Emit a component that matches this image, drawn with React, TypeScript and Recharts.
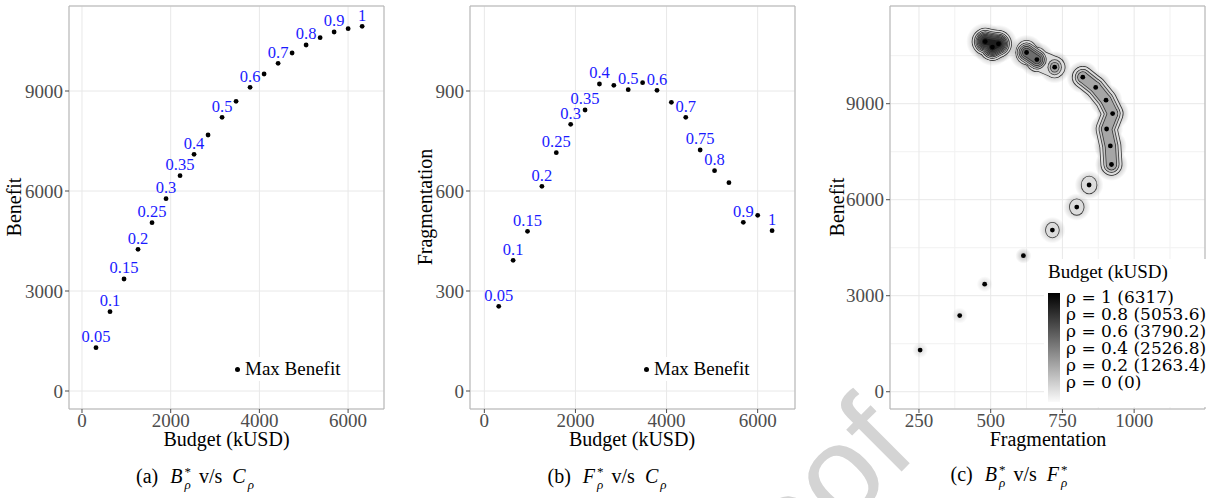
import React from 'react';
import {
  ScatterChart,
  Scatter,
  XAxis,
  YAxis,
  CartesianGrid,
  ReferenceArea,
  LabelList,
  Legend
} from 'recharts';

// rho levels and the optimum found for each one
const rho = [0.05, 0.1, 0.15, 0.2, 0.25, 0.3, 0.35, 0.4, 0.45, 0.5, 0.55, 0.6, 0.65, 0.7, 0.75, 0.8, 0.85, 0.9, 0.95, 1];
const budget = [315.9, 631.7, 947.6, 1263.4, 1579.3, 1895.1, 2211.0, 2526.8, 2842.7, 3158.5, 3474.4, 3790.2, 4106.1, 4421.9, 4737.8, 5053.6, 5369.5, 5685.3, 6001.2, 6317];
const benefit = [1300, 2380, 3360, 4250, 5050, 5770, 6460, 7100, 7680, 8210, 8690, 9110, 9510, 9830, 10140, 10380, 10600, 10770, 10870, 10940];
const fragmentation = [254, 392, 479, 614, 715, 800, 843, 921, 917, 904, 925, 902, 866, 821, 723, 661, 625, 506, 527, 481];

// which points carry a rho label in panels (a) and (b)
const labelledA = [1, 1, 1, 1, 1, 1, 1, 1, 0, 1, 0, 1, 0, 1, 0, 1, 0, 1, 0, 1];
const labelledB = [1, 1, 1, 1, 1, 1, 1, 1, 0, 1, 0, 1, 0, 1, 1, 1, 0, 1, 0, 1];

// panel (c) shading: integer part = number of contour rings round the point
const density = [0.2, 0.25, 0.3, 0.8, 1.3, 1.5, 1.8, 3.5, 3.5, 3.5, 3.6, 3.5, 3.5, 3.4, 3.2, 5.3, 5.3, 8.5, 8.6, 8.5];
// contour levels that join a point to the one before it
const linkLevels = [0, 0, 0, 0, 0, 0, 0, 0, 3, 3, 3, 3, 3, 3, 0, 1, 5, 0, 8, 8];

const budgetTicks = [0, 2000, 4000, 6000];
const benefitTicks = [0, 3000, 6000, 9000];
const fragTicks = [0, 300, 600, 900];
const fragXTicks = [250, 500, 750, 1000];
const minorFragX = [375, 625, 875, 1125];
const minorBenefitY = [1500, 4500, 7500, 10500];

const legendRho = ['1', '0.8', '0.6', '0.4', '0.2', '0'];
const legendBudget = ['6317', '5053.6', '3790.2', '2526.8', '1263.4', '0'];

const H = 498;
const FONT = '"Liberation Serif", "DejaVu Serif", serif';
const tickStyle = { fill: '#4d4d4d', fontSize: 19, fontFamily: FONT };
const LABEL_BLUE = '#1a1aff';

const dataA = budget.map((b, i) => ({ x: b, y: benefit[i], label: labelledA[i] ? String(rho[i]) : '' }));
const dataB = budget.map((b, i) => ({ x: b, y: fragmentation[i], label: labelledB[i] ? String(rho[i]) : '' }));
const dataC = fragmentation.map((f, i) => ({ x: f, y: benefit[i], d: density[i], link: linkLevels[i] }));

// contour geometry (px) for panel (c)
const SX = 5.5;
const SY = 6.2;
const grays = ['#dcdcdc', '#c2c2c2', '#a6a6a6', '#8a8a8a', '#6d6d6d', '#515151', '#363636', '#1e1e1e'];
const spread = (d: number, j: number) => Math.sqrt(2 * Math.log((d + 0.7) / j));
const maxLevel = Math.max(...density.map(d => Math.floor(d)));

const dotShape = (p: any) => <circle cx={p.cx} cy={p.cy} r={2.4} fill="#000" />;
const emptyShape = () => <g />;

function runsAt(j: number) {
  const runs: any[][] = [];
  let cur: any[] = [];
  dataC.forEach(p => {
    if (Math.floor(p.d) < j) {
      if (cur.length > 1) runs.push(cur);
      cur = [];
      return;
    }
    if (cur.length && p.link >= j) {
      cur.push(p);
    } else {
      if (cur.length > 1) runs.push(cur);
      cur = [p];
    }
  });
  if (cur.length > 1) runs.push(cur);
  return runs;
}

const ellipseShape = (j: number, pad: number, color: string) => (p: any) => {
  const f = spread(p.payload.d, j);
  return <ellipse cx={p.cx} cy={p.cy} rx={SX * f + pad} ry={SY * f + pad} fill={color} />;
};

const glowShape = (p: any) => {
  const d = p.payload.d;
  const r = d < 1 ? 8 : SY * spread(d, 1) + 6;
  const op = d < 1 ? 0.1 + 0.22 * d : Math.min(0.5, 0.2 + 0.1 * d);
  return <circle cx={p.cx} cy={p.cy} r={r} fill="url(#pointGlow)" opacity={op} />;
};

const contourSeries: React.ReactNode[] = [];
for (let j = 1; j <= maxLevel; j++) {
  const pts = dataC.filter(p => Math.floor(p.d) >= j);
  const runs = runsAt(j);
  const passes: [number, string, string][] = [[0.8, '#3a3a3a', 'o'], [0, grays[j - 1], 'f']];
  passes.forEach(([pad, color, tag]) => {
    contourSeries.push(
      <Scatter key={`e${j}${tag}`} data={pts} shape={ellipseShape(j, pad, color)} isAnimationActive={false} />
    );
    runs.forEach((run, r) => {
      const minD = Math.min(...run.map(p => p.d));
      const w = 2 * SX * spread(minD, j) * 1.1;
      contourSeries.push(
        <Scatter
          key={`t${j}${tag}${r}`}
          data={run}
          shape={emptyShape}
          line={{ stroke: color, strokeWidth: w + 2 * pad, strokeLinecap: 'round', strokeLinejoin: 'round' }}
          isAnimationActive={false}
        />
      );
    });
  });
}

function MaxBenefitKey() {
  return (
    <div style={{ display: 'flex', alignItems: 'center', background: '#fff', padding: '1px 3px', fontFamily: FONT, fontSize: 19, lineHeight: '22px', whiteSpace: 'nowrap' }}>
      <span style={{ width: 5, height: 5, borderRadius: '50%', background: '#000', display: 'inline-block' }} />
      <span style={{ marginLeft: 5 }}>Max Benefit</span>
    </div>
  );
}

function BudgetKey() {
  return (
    <div style={{ position: 'relative', width: 164, height: 148, background: '#fff', fontFamily: FONT }}>
      <div style={{ position: 'absolute', left: 4, top: 2, fontSize: 19, lineHeight: '22px', whiteSpace: 'nowrap' }}>Budget (kUSD)</div>
      <div style={{ position: 'absolute', left: 4, top: 34, width: 12, height: 109, background: 'linear-gradient(#000, #fafafa)' }} />
      {legendRho.map((r, i) => (
        <div
          key={r}
          style={{ position: 'absolute', left: 22, top: 30 + i * 17, fontSize: 17, lineHeight: '17px', whiteSpace: 'pre', fontFamily: '"DejaVu Serif", serif' }}
        >
          {`ρ = ${r} (${legendBudget[i]})`}
        </div>
      ))}
    </div>
  );
}

interface PanelProps {
  left: number;
  width: number;
  yAxisWidth: number;
  marginRight: number;
  xDomain: [number, number];
  yDomain: [number, number];
  xTicks: number[];
  yTicks: number[];
  minor?: boolean;
  children: React.ReactNode;
}

function Panel({ left, width, yAxisWidth, marginRight, xDomain, yDomain, xTicks, yTicks, minor, children }: PanelProps) {
  return (
    <div style={{ position: 'absolute', left, top: 0 }}>
      <ScatterChart width={width} height={H} margin={{ top: 6, right: marginRight, bottom: 59, left: 0 }}>
        {minor && <CartesianGrid stroke="#f1f1f1" verticalValues={minorFragX} horizontalValues={minorBenefitY} />}
        <CartesianGrid stroke="#e8e8e8" />
        <XAxis
          type="number"
          dataKey="x"
          domain={xDomain}
          ticks={xTicks}
          allowDataOverflow
          height={30}
          axisLine={false}
          tickLine={{ stroke: '#4d4d4d' }}
          tickSize={4}
          tickMargin={1}
          tick={tickStyle}
        />
        <YAxis
          type="number"
          dataKey="y"
          domain={yDomain}
          ticks={yTicks}
          allowDataOverflow
          width={yAxisWidth}
          axisLine={false}
          tickLine={{ stroke: '#4d4d4d' }}
          tickSize={4}
          tickMargin={2}
          tick={tickStyle}
        />
        {children}
        <ReferenceArea x1={xDomain[0]} x2={xDomain[1]} y1={yDomain[0]} y2={yDomain[1]} fill="none" stroke="#b3b3b3" strokeWidth={1} />
      </ScatterChart>
    </div>
  );
}

function Title({ x, y, text, rotate }: { x: number; y: number; text: string; rotate?: boolean }) {
  return (
    <div
      style={{
        position: 'absolute',
        left: x,
        top: y,
        transform: `translate(-50%, -50%)${rotate ? ' rotate(-90deg)' : ''}`,
        fontSize: 20,
        whiteSpace: 'nowrap',
        lineHeight: '22px'
      }}
    >
      {text}
    </div>
  );
}

// italic symbol with stacked star / rho scripts on its right
function Sym({ base, sup }: { base: string; sup?: boolean }) {
  return (
    <span style={{ whiteSpace: 'nowrap' }}>
      <i>{base}</i>
      <span style={{ display: 'inline-flex', flexDirection: 'column', verticalAlign: 'middle', fontSize: 13, lineHeight: '13px', marginLeft: 2 }}>
        <span>{sup ? '*' : '\u00a0'}</span>
        <i>ρ</i>
      </span>
    </span>
  );
}

function Caption({ x, y, tag, lhs, rhs, rhsStar }: { x: number; y: number; tag: string; lhs: string; rhs: string; rhsStar?: boolean }) {
  return (
    <div style={{ position: 'absolute', left: x, top: y, transform: 'translate(-50%, -50%)', fontSize: 20, lineHeight: '28px', whiteSpace: 'nowrap' }}>
      <span style={{ marginRight: 12 }}>({tag})</span>
      <Sym base={lhs} sup />
      <span style={{ margin: '0 10px 0 8px' }}>v/s</span>
      <Sym base={rhs} sup={rhsStar} />
    </div>
  );
}

export default function App() {
  return (
    <div style={{ position: 'absolute', left: 0, top: 0, width: 1208, height: H, overflow: 'hidden', background: '#fff', fontFamily: FONT, color: '#000' }}>
      <svg width={0} height={0} style={{ position: 'absolute' }}>
        <defs>
          <radialGradient id="pointGlow">
            <stop offset="0%" stopColor="#000" stopOpacity={1} />
            <stop offset="100%" stopColor="#000" stopOpacity={0} />
          </radialGradient>
        </defs>
      </svg>

      {/* watermark */}
      <svg width={1208} height={H} style={{ position: 'absolute', left: 0, top: 0, pointerEvents: 'none' }}>
        <text x={919} y={454} transform="rotate(-45 919 454)" textAnchor="end" fontSize={130} fontFamily='"Liberation Sans", Arial, sans-serif' fill="#d4d4d4">
          Journal Pre-proof
        </text>
      </svg>

      {/* (a) benefit vs budget */}
      <Panel left={0} width={400} yAxisWidth={69} marginRight={16} xDomain={[-293, 6810]} yDomain={[-540, 11550]} xTicks={budgetTicks} yTicks={benefitTicks}>
        {[
          <Scatter key="a" data={dataA} shape={dotShape} isAnimationActive={false}>
            <LabelList dataKey="label" position="top" offset={1} fill={LABEL_BLUE} fontSize={16.5} fontFamily={FONT} />
          </Scatter>,
          <Legend key="la" layout="horizontal" verticalAlign="middle" align="center" content={() => <MaxBenefitKey />} wrapperStyle={{ left: 232, top: 357, width: 'auto', height: 'auto' }} />
        ]}
      </Panel>

      {/* (b) fragmentation vs budget */}
      <Panel left={400} width={400} yAxisWidth={70} marginRight={5} xDomain={[-315, 6820]} yDomain={[-54, 1155]} xTicks={budgetTicks} yTicks={fragTicks}>
        {[
          <Scatter key="b" data={dataB} shape={dotShape} isAnimationActive={false}>
            <LabelList dataKey="label" position="top" offset={1} fill={LABEL_BLUE} fontSize={16.5} fontFamily={FONT} />
          </Scatter>,
          <Legend key="lb" layout="horizontal" verticalAlign="middle" align="center" content={() => <MaxBenefitKey />} wrapperStyle={{ left: 241, top: 357, width: 'auto', height: 'auto' }} />
        ]}
      </Panel>

      {/* (c) benefit vs fragmentation with budget density */}
      <Panel left={800} width={408} yAxisWidth={90} marginRight={3} xDomain={[149, 1247]} yDomain={[-540, 12053]} xTicks={fragXTicks} yTicks={benefitTicks} minor>
        {[
          <Scatter key="glow" data={dataC} shape={glowShape} isAnimationActive={false} />,
          ...contourSeries,
          <Scatter key="c" data={dataC} shape={dotShape} isAnimationActive={false} />,
          <Legend key="lc" layout="horizontal" verticalAlign="middle" align="center" content={() => <BudgetKey />} wrapperStyle={{ left: 244, top: 259, width: 'auto', height: 'auto' }} />
        ]}
      </Panel>

      <Title x={14} y={207} text="Benefit" rotate />
      <Title x={226.5} y={439} text="Budget (kUSD)" />
      <Title x={425} y={207} text="Fragmentation" rotate />
      <Title x={632} y={439} text="Budget (kUSD)" />
      <Title x={837} y={207} text="Benefit" rotate />
      <Title x={1048} y={439} text="Fragmentation" />

      <Caption x={195} y={477} tag="a" lhs="B" rhs="C" />
      <Caption x={607} y={477} tag="b" lhs="F" rhs="C" />
      <Caption x={1009} y={475} tag="c" lhs="B" rhs="F" rhsStar />
    </div>
  );
}
